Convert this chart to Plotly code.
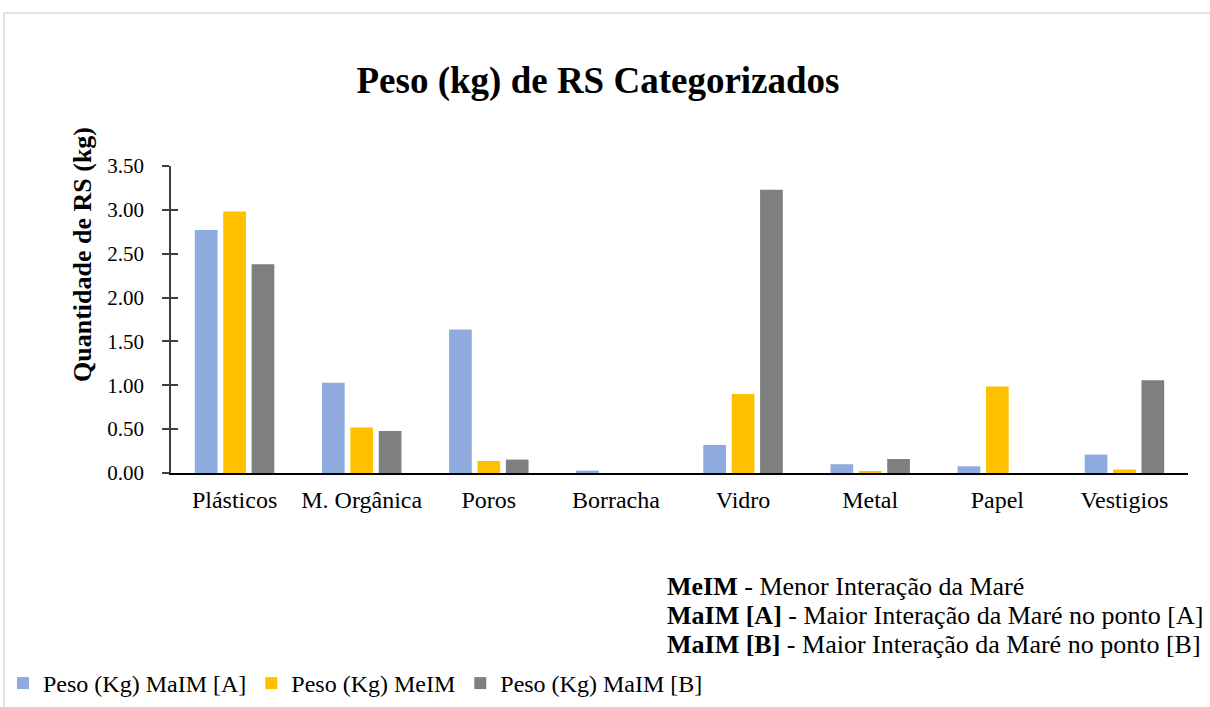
import plotly.graph_objects as go

categories = ["Plásticos", "M. Orgânica", "Poros", "Borracha", "Vidro", "Metal", "Papel", "Vestigios"]
maim_a = [2.77, 1.03, 1.635, 0.027, 0.32, 0.10, 0.076, 0.21]
meim = [2.98, 0.52, 0.137, 0.0, 0.90, 0.02, 0.985, 0.04]
maim_b = [2.38, 0.48, 0.153, 0.0, 3.23, 0.16, 0.0, 1.057]
series_names = ["Peso (Kg) MaIM [A]", "Peso (Kg) MeIM", "Peso (Kg) MaIM [B]"]
y_ticks = [0, 0.5, 1.0, 1.5, 2.0, 2.5, 3.0, 3.5]

colors = ["#8FAADC", "#FFC000", "#7F7F7F"]
FONT = "Liberation Serif, Times New Roman, serif"

W, H = 1210, 707
L, R, T, B = 171, 22, 166, 234
pw, ph = W - L - R, H - T - B

def px(x):
    return (x - L) / pw

def py(y):
    return (H - B - y) / ph

fig = go.Figure()
for name, vals, c in zip(series_names, [maim_a, meim, maim_b], colors):
    fig.add_trace(go.Bar(x=categories, y=vals, name=name, marker_color=c,
                         marker_line_width=0))

fig.update_layout(
    width=W, height=H,
    margin=dict(l=L, r=R, t=T, b=B, autoexpand=False),
    paper_bgcolor="white", plot_bgcolor="white",
    font=dict(family=FONT, color="#000000"),
    barmode="group", bargap=0.33, bargroupgap=0.2,
    title=dict(text="<b>Peso (kg) de RS Categorizados</b>", x=598 / W, xanchor="center",
               y=1 - 80 / H, yanchor="middle", yref="container",
               font=dict(family=FONT, size=37, color="#000000")),
    xaxis=dict(showline=True, linecolor="#000000", linewidth=2, ticks="",
               ticklabelstandoff=4,
               tickfont=dict(family=FONT, size=24, color="#000000"), showgrid=False),
    yaxis=dict(range=[0, 3.5], tickvals=y_ticks, ticktext=[f"{v:.2f}" for v in y_ticks],
               showline=True, linecolor="#404040", linewidth=1.5, ticks="outside",
               ticklen=7, tickwidth=1.5, tickcolor="#404040", ticklabelstandoff=14,
               tickfont=dict(family=FONT, size=21, color="#000000"), showgrid=False,
               zeroline=False),
    yaxis2=dict(range=[0, 3.5], tickvals=y_ticks, overlaying="y", side="left",
                ticks="inside", ticklen=7, tickwidth=1.5, tickcolor="#404040",
                showticklabels=False, showgrid=False, zeroline=False, showline=False),
    legend=dict(orientation="h", x=px(3), y=py(706), xanchor="left", yanchor="bottom",
                font=dict(family=FONT, size=24, color="#000000"),
                itemwidth=30, tracegroupgap=0, bgcolor="rgba(0,0,0,0)", borderwidth=0),
    showlegend=True,
)

# Secondary axis to produce crossing tick marks
fig.add_trace(go.Scatter(x=[categories[0]], y=[0], yaxis="y2", mode="markers",
                         marker=dict(opacity=0), showlegend=False, hoverinfo="skip"))

annotations = [
    dict(text="<b>Quantidade de RS (kg)</b>", x=px(82), y=py(255), textangle=-90,
         font=dict(family=FONT, size=26, color="#000000")),
    dict(text="<b>MeIM</b> - Menor Interação da Maré", x=px(665), y=py(586),
         xanchor="left", font=dict(family=FONT, size=26, color="#000000")),
    dict(text="<b>MaIM [A]</b> - Maior Interação da Maré no ponto [A]", x=px(665), y=py(615),
         xanchor="left", font=dict(family=FONT, size=26, color="#000000")),
    dict(text="<b>MaIM [B]</b> - Maior Interação da Maré no ponto [B]", x=px(665), y=py(644),
         xanchor="left", font=dict(family=FONT, size=26, color="#000000")),
]
for a in annotations:
    a.update(xref="paper", yref="paper", showarrow=False, yanchor="middle")
    a.setdefault("xanchor", "center")
fig.update_layout(annotations=annotations)

fig.add_shape(type="rect", xref="paper", yref="paper", x0=px(4), y0=py(720),
              x1=px(1220), y1=py(13), line=dict(color="#D9D9D9", width=1.5),
              fillcolor="rgba(0,0,0,0)", layer="below")

fig.write_html("out.html", config={"displayModeBar": False})

# remove default browser body margin so the figure sits at the page origin
with open("out.html", encoding="utf-8") as f:
    html = f.read()
html = html.replace("<body>", '<body style="margin:0;overflow:hidden">', 1)
with open("out.html", "w", encoding="utf-8") as f:
    f.write(html)
